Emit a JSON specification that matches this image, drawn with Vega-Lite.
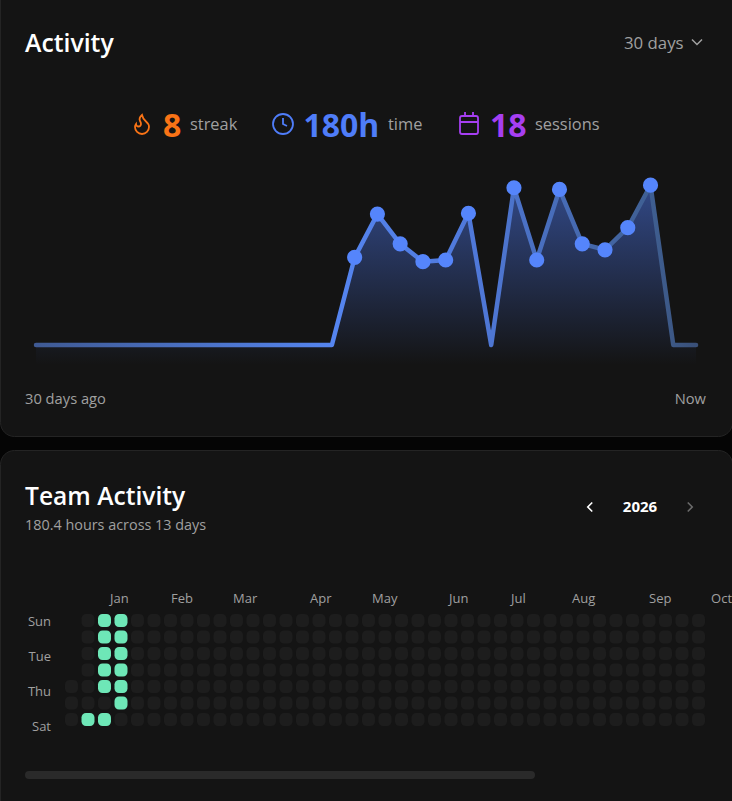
{
  "$schema": "https://vega.github.io/schema/vega-lite/v6.json",
  "background": "#050505",
  "padding": {"left": -1, "right": -1, "top": -21, "bottom": -20},
  "spacing": 12,
  "config": {
    "axis": {"disable": true},
    "legend": {"disable": true},
    "text": {"font": "Open Sans", "align": "left", "baseline": "middle", "color": "#a0a0a0"}
  },
  "datasets": {
    "activity": [
      {"day": 0, "hours": 0}, {"day": 1, "hours": 0}, {"day": 2, "hours": 0}, {"day": 3, "hours": 0},
      {"day": 4, "hours": 0}, {"day": 5, "hours": 0}, {"day": 6, "hours": 0}, {"day": 7, "hours": 0},
      {"day": 8, "hours": 0}, {"day": 9, "hours": 0}, {"day": 10, "hours": 0}, {"day": 11, "hours": 0},
      {"day": 12, "hours": 0}, {"day": 13, "hours": 0},
      {"day": 14, "hours": 10.3}, {"day": 15, "hours": 15.4}, {"day": 16, "hours": 11.9}, {"day": 17, "hours": 9.8},
      {"day": 18, "hours": 10}, {"day": 19, "hours": 15.5}, {"day": 20, "hours": 0}, {"day": 21, "hours": 18.5},
      {"day": 22, "hours": 10}, {"day": 23, "hours": 18.3}, {"day": 24, "hours": 11.9}, {"day": 25, "hours": 11.2},
      {"day": 26, "hours": 13.8}, {"day": 27, "hours": 18.8}, {"day": 28, "hours": 0}, {"day": 29, "hours": 0}
    ],
    "months": [
      {"month": "Jan", "week": 2.33}, {"month": "Feb", "week": 6.03}, {"month": "Mar", "week": 9.79},
      {"month": "Apr", "week": 14.46}, {"month": "May", "week": 18.21}, {"month": "Jun", "week": 22.88},
      {"month": "Jul", "week": 26.64}, {"month": "Aug", "week": 30.33}, {"month": "Sep", "week": 35},
      {"month": "Oct", "week": 38.76}
    ],
    "weekdays": [
      {"weekday": "Sun", "row": 0.09}, {"weekday": "Tue", "row": 2.21},
      {"weekday": "Thu", "row": 4.33}, {"weekday": "Sat", "row": 6.45}
    ],
    "cells": [
      {"week":0,"day":4,"active":0},{"week":0,"day":5,"active":0},{"week":0,"day":6,"active":0},
      {"week":1,"day":0,"active":0},{"week":1,"day":1,"active":0},{"week":1,"day":2,"active":0},{"week":1,"day":3,"active":0},{"week":1,"day":4,"active":0},{"week":1,"day":5,"active":0},{"week":1,"day":6,"active":1},
      {"week":2,"day":0,"active":1},{"week":2,"day":1,"active":1},{"week":2,"day":2,"active":1},{"week":2,"day":3,"active":1},{"week":2,"day":4,"active":1},{"week":2,"day":5,"active":0},{"week":2,"day":6,"active":1},
      {"week":3,"day":0,"active":1},{"week":3,"day":1,"active":1},{"week":3,"day":2,"active":1},{"week":3,"day":3,"active":1},{"week":3,"day":4,"active":1},{"week":3,"day":5,"active":1},{"week":3,"day":6,"active":0},
      {"week":4,"day":0,"active":0},{"week":4,"day":1,"active":0},{"week":4,"day":2,"active":0},{"week":4,"day":3,"active":0},{"week":4,"day":4,"active":0},{"week":4,"day":5,"active":0},{"week":4,"day":6,"active":0},
      {"week":5,"day":0,"active":0},{"week":5,"day":1,"active":0},{"week":5,"day":2,"active":0},{"week":5,"day":3,"active":0},{"week":5,"day":4,"active":0},{"week":5,"day":5,"active":0},{"week":5,"day":6,"active":0},
      {"week":6,"day":0,"active":0},{"week":6,"day":1,"active":0},{"week":6,"day":2,"active":0},{"week":6,"day":3,"active":0},{"week":6,"day":4,"active":0},{"week":6,"day":5,"active":0},{"week":6,"day":6,"active":0},
      {"week":7,"day":0,"active":0},{"week":7,"day":1,"active":0},{"week":7,"day":2,"active":0},{"week":7,"day":3,"active":0},{"week":7,"day":4,"active":0},{"week":7,"day":5,"active":0},{"week":7,"day":6,"active":0},
      {"week":8,"day":0,"active":0},{"week":8,"day":1,"active":0},{"week":8,"day":2,"active":0},{"week":8,"day":3,"active":0},{"week":8,"day":4,"active":0},{"week":8,"day":5,"active":0},{"week":8,"day":6,"active":0},
      {"week":9,"day":0,"active":0},{"week":9,"day":1,"active":0},{"week":9,"day":2,"active":0},{"week":9,"day":3,"active":0},{"week":9,"day":4,"active":0},{"week":9,"day":5,"active":0},{"week":9,"day":6,"active":0},
      {"week":10,"day":0,"active":0},{"week":10,"day":1,"active":0},{"week":10,"day":2,"active":0},{"week":10,"day":3,"active":0},{"week":10,"day":4,"active":0},{"week":10,"day":5,"active":0},{"week":10,"day":6,"active":0},
      {"week":11,"day":0,"active":0},{"week":11,"day":1,"active":0},{"week":11,"day":2,"active":0},{"week":11,"day":3,"active":0},{"week":11,"day":4,"active":0},{"week":11,"day":5,"active":0},{"week":11,"day":6,"active":0},
      {"week":12,"day":0,"active":0},{"week":12,"day":1,"active":0},{"week":12,"day":2,"active":0},{"week":12,"day":3,"active":0},{"week":12,"day":4,"active":0},{"week":12,"day":5,"active":0},{"week":12,"day":6,"active":0},
      {"week":13,"day":0,"active":0},{"week":13,"day":1,"active":0},{"week":13,"day":2,"active":0},{"week":13,"day":3,"active":0},{"week":13,"day":4,"active":0},{"week":13,"day":5,"active":0},{"week":13,"day":6,"active":0},
      {"week":14,"day":0,"active":0},{"week":14,"day":1,"active":0},{"week":14,"day":2,"active":0},{"week":14,"day":3,"active":0},{"week":14,"day":4,"active":0},{"week":14,"day":5,"active":0},{"week":14,"day":6,"active":0},
      {"week":15,"day":0,"active":0},{"week":15,"day":1,"active":0},{"week":15,"day":2,"active":0},{"week":15,"day":3,"active":0},{"week":15,"day":4,"active":0},{"week":15,"day":5,"active":0},{"week":15,"day":6,"active":0},
      {"week":16,"day":0,"active":0},{"week":16,"day":1,"active":0},{"week":16,"day":2,"active":0},{"week":16,"day":3,"active":0},{"week":16,"day":4,"active":0},{"week":16,"day":5,"active":0},{"week":16,"day":6,"active":0},
      {"week":17,"day":0,"active":0},{"week":17,"day":1,"active":0},{"week":17,"day":2,"active":0},{"week":17,"day":3,"active":0},{"week":17,"day":4,"active":0},{"week":17,"day":5,"active":0},{"week":17,"day":6,"active":0},
      {"week":18,"day":0,"active":0},{"week":18,"day":1,"active":0},{"week":18,"day":2,"active":0},{"week":18,"day":3,"active":0},{"week":18,"day":4,"active":0},{"week":18,"day":5,"active":0},{"week":18,"day":6,"active":0},
      {"week":19,"day":0,"active":0},{"week":19,"day":1,"active":0},{"week":19,"day":2,"active":0},{"week":19,"day":3,"active":0},{"week":19,"day":4,"active":0},{"week":19,"day":5,"active":0},{"week":19,"day":6,"active":0},
      {"week":20,"day":0,"active":0},{"week":20,"day":1,"active":0},{"week":20,"day":2,"active":0},{"week":20,"day":3,"active":0},{"week":20,"day":4,"active":0},{"week":20,"day":5,"active":0},{"week":20,"day":6,"active":0},
      {"week":21,"day":0,"active":0},{"week":21,"day":1,"active":0},{"week":21,"day":2,"active":0},{"week":21,"day":3,"active":0},{"week":21,"day":4,"active":0},{"week":21,"day":5,"active":0},{"week":21,"day":6,"active":0},
      {"week":22,"day":0,"active":0},{"week":22,"day":1,"active":0},{"week":22,"day":2,"active":0},{"week":22,"day":3,"active":0},{"week":22,"day":4,"active":0},{"week":22,"day":5,"active":0},{"week":22,"day":6,"active":0},
      {"week":23,"day":0,"active":0},{"week":23,"day":1,"active":0},{"week":23,"day":2,"active":0},{"week":23,"day":3,"active":0},{"week":23,"day":4,"active":0},{"week":23,"day":5,"active":0},{"week":23,"day":6,"active":0},
      {"week":24,"day":0,"active":0},{"week":24,"day":1,"active":0},{"week":24,"day":2,"active":0},{"week":24,"day":3,"active":0},{"week":24,"day":4,"active":0},{"week":24,"day":5,"active":0},{"week":24,"day":6,"active":0},
      {"week":25,"day":0,"active":0},{"week":25,"day":1,"active":0},{"week":25,"day":2,"active":0},{"week":25,"day":3,"active":0},{"week":25,"day":4,"active":0},{"week":25,"day":5,"active":0},{"week":25,"day":6,"active":0},
      {"week":26,"day":0,"active":0},{"week":26,"day":1,"active":0},{"week":26,"day":2,"active":0},{"week":26,"day":3,"active":0},{"week":26,"day":4,"active":0},{"week":26,"day":5,"active":0},{"week":26,"day":6,"active":0},
      {"week":27,"day":0,"active":0},{"week":27,"day":1,"active":0},{"week":27,"day":2,"active":0},{"week":27,"day":3,"active":0},{"week":27,"day":4,"active":0},{"week":27,"day":5,"active":0},{"week":27,"day":6,"active":0},
      {"week":28,"day":0,"active":0},{"week":28,"day":1,"active":0},{"week":28,"day":2,"active":0},{"week":28,"day":3,"active":0},{"week":28,"day":4,"active":0},{"week":28,"day":5,"active":0},{"week":28,"day":6,"active":0},
      {"week":29,"day":0,"active":0},{"week":29,"day":1,"active":0},{"week":29,"day":2,"active":0},{"week":29,"day":3,"active":0},{"week":29,"day":4,"active":0},{"week":29,"day":5,"active":0},{"week":29,"day":6,"active":0},
      {"week":30,"day":0,"active":0},{"week":30,"day":1,"active":0},{"week":30,"day":2,"active":0},{"week":30,"day":3,"active":0},{"week":30,"day":4,"active":0},{"week":30,"day":5,"active":0},{"week":30,"day":6,"active":0},
      {"week":31,"day":0,"active":0},{"week":31,"day":1,"active":0},{"week":31,"day":2,"active":0},{"week":31,"day":3,"active":0},{"week":31,"day":4,"active":0},{"week":31,"day":5,"active":0},{"week":31,"day":6,"active":0},
      {"week":32,"day":0,"active":0},{"week":32,"day":1,"active":0},{"week":32,"day":2,"active":0},{"week":32,"day":3,"active":0},{"week":32,"day":4,"active":0},{"week":32,"day":5,"active":0},{"week":32,"day":6,"active":0},
      {"week":33,"day":0,"active":0},{"week":33,"day":1,"active":0},{"week":33,"day":2,"active":0},{"week":33,"day":3,"active":0},{"week":33,"day":4,"active":0},{"week":33,"day":5,"active":0},{"week":33,"day":6,"active":0},
      {"week":34,"day":0,"active":0},{"week":34,"day":1,"active":0},{"week":34,"day":2,"active":0},{"week":34,"day":3,"active":0},{"week":34,"day":4,"active":0},{"week":34,"day":5,"active":0},{"week":34,"day":6,"active":0},
      {"week":35,"day":0,"active":0},{"week":35,"day":1,"active":0},{"week":35,"day":2,"active":0},{"week":35,"day":3,"active":0},{"week":35,"day":4,"active":0},{"week":35,"day":5,"active":0},{"week":35,"day":6,"active":0},
      {"week":36,"day":0,"active":0},{"week":36,"day":1,"active":0},{"week":36,"day":2,"active":0},{"week":36,"day":3,"active":0},{"week":36,"day":4,"active":0},{"week":36,"day":5,"active":0},{"week":36,"day":6,"active":0},
      {"week":37,"day":0,"active":0},{"week":37,"day":1,"active":0},{"week":37,"day":2,"active":0},{"week":37,"day":3,"active":0},{"week":37,"day":4,"active":0},{"week":37,"day":5,"active":0},{"week":37,"day":6,"active":0},
      {"week":38,"day":0,"active":0},{"week":38,"day":1,"active":0},{"week":38,"day":2,"active":0},{"week":38,"day":3,"active":0},{"week":38,"day":4,"active":0},{"week":38,"day":5,"active":0},{"week":38,"day":6,"active":0}
    ]
  },
  "vconcat": [
    {
      "width": 732,
      "height": 456,
      "view": {"fill": "#141414", "stroke": "#242424", "cornerRadius": 14},
      "layer": [
        {
          "data": {"name": "activity"},
          "encoding": {
            "x": {"field": "day", "type": "quantitative", "scale": {"domain": [-1.582, 30.58], "nice": false, "zero": false}},
            "y": {"field": "hours", "type": "quantitative", "scale": {"domain": [-10.706, 42.941], "nice": false, "zero": false}}
          },
          "layer": [
            {
              "mark": {
                "type": "area",
                "fill": {
                  "gradient": "linear", "x1": 0, "y1": 0, "x2": 0, "y2": 1,
                  "stops": [
                    {"offset": 0, "color": "rgba(79,125,249,0.5)"},
                    {"offset": 1, "color": "rgba(79,125,249,0)"}
                  ]
                }
              },
              "encoding": {"y2": {"datum": -2.35}}
            },
            {
              "mark": {
                "type": "line",
                "strokeWidth": 4.5,
                "strokeCap": "round",
                "strokeJoin": "round",
                "stroke": {
                  "gradient": "linear", "x1": 0, "y1": 0, "x2": 1, "y2": 0,
                  "stops": [
                    {"offset": 0, "color": "#3f5a94"},
                    {"offset": 0.45, "color": "#5585f0"},
                    {"offset": 0.67, "color": "#4f78d8"},
                    {"offset": 0.93, "color": "#3f5f92"},
                    {"offset": 1, "color": "#3a5078"}
                  ]
                }
              }
            },
            {
              "transform": [{"filter": "datum.hours > 0"}],
              "mark": {"type": "circle", "size": 230, "color": "#5585fb", "opacity": 1}
            }
          ]
        },
        {
          "data": {"values": [{"label": "Activity"}]},
          "mark": {"type": "text", "fontSize": 24.8, "fontWeight": 600, "color": "#ffffff"},
          "encoding": {"x": {"datum": -0.483}, "y": {"datum": 35.3}, "text": {"field": "label"}}
        },
        {
          "data": {"values": [{"label": "30 days"}]},
          "mark": {"type": "text", "fontSize": 16.8},
          "encoding": {"x": {"datum": 25.835}, "y": {"datum": 35.45}, "text": {"field": "label"}}
        },
        {
          "data": {"values": [{"label": "range"}]},
          "mark": {"type": "point", "shape": "M-0.5,-0.25L0,0.25L0.5,-0.25", "size": 400, "filled": false, "stroke": "#a0a0a0", "strokeWidth": 1.5, "opacity": 1},
          "encoding": {"x": {"datum": 29.042}, "y": {"datum": 35.65}}
        },
        {
          "data": {"values": [{"label": "streak icon"}]},
          "mark": {"type": "point", "shape": "M-0.292,0.208A0.208,0.208 0 0 0 -0.083,0c0,-0.115 -0.042,-0.167 -0.083,-0.25 -0.089,-0.179 -0.019,-0.338 0.167,-0.5 0.042,0.208 0.167,0.408 0.333,0.542 0.167,0.133 0.25,0.292 0.25,0.458a0.583,0.583 0 1 1 -1.167,0c0,-0.096 0.036,-0.191 0.083,-0.25a0.208,0.208 0 0 0 0.208,0.208z", "size": 576, "filled": false, "stroke": "#f97316", "strokeWidth": 1.8, "opacity": 1},
          "encoding": {"x": {"datum": 4.657}, "y": {"datum": 26}}
        },
        {
          "data": {"values": [{"label": "8"}]},
          "mark": {"type": "text", "fontSize": 32, "fontWeight": 700, "color": "#f97316"},
          "encoding": {"x": {"datum": 5.58}, "y": {"datum": 25.7}, "text": {"field": "label"}}
        },
        {
          "data": {"values": [{"label": "streak"}]},
          "mark": {"type": "text", "fontSize": 16.4},
          "encoding": {"x": {"datum": 6.766}, "y": {"datum": 25.9}, "text": {"field": "label"}}
        },
        {
          "data": {"values": [{"label": "time icon"}]},
          "mark": {"type": "point", "shape": "M0.833,0A0.833,0.833 0 1 1 -0.833,0A0.833,0.833 0 1 1 0.833,0M0,-0.5V0L0.333,0.167", "size": 576, "filled": false, "stroke": "#4f7df9", "strokeWidth": 1.8, "opacity": 1},
          "encoding": {"x": {"datum": 10.852}, "y": {"datum": 26}}
        },
        {
          "data": {"values": [{"label": "180h"}]},
          "mark": {"type": "text", "fontSize": 32, "fontWeight": 700, "color": "#4f7df9"},
          "encoding": {"x": {"datum": 11.75}, "y": {"datum": 25.7}, "text": {"field": "label"}}
        },
        {
          "data": {"values": [{"label": "time"}]},
          "mark": {"type": "text", "fontSize": 16.4},
          "encoding": {"x": {"datum": 15.466}, "y": {"datum": 25.9}, "text": {"field": "label"}}
        },
        {
          "data": {"values": [{"label": "sessions icon"}]},
          "mark": {"type": "point", "shape": "M-0.583,-0.667H0.583A0.167,0.167 0 0 1 0.75,-0.5V0.667A0.167,0.167 0 0 1 0.583,0.833H-0.583A0.167,0.167 0 0 1 -0.75,0.667V-0.5A0.167,0.167 0 0 1 -0.583,-0.667ZM0.333,-1V-0.667M-0.333,-1V-0.667M-0.75,-0.167H0.75", "size": 576, "filled": false, "stroke": "#a63ff2", "strokeWidth": 1.8, "opacity": 1},
          "encoding": {"x": {"datum": 19.025}, "y": {"datum": 26}}
        },
        {
          "data": {"values": [{"label": "18"}]},
          "mark": {"type": "text", "fontSize": 32, "fontWeight": 700, "color": "#a63ff2"},
          "encoding": {"x": {"datum": 19.946}, "y": {"datum": 25.7}, "text": {"field": "label"}}
        },
        {
          "data": {"values": [{"label": "sessions"}]},
          "mark": {"type": "text", "fontSize": 16.4},
          "encoding": {"x": {"datum": 21.924}, "y": {"datum": 25.9}, "text": {"field": "label"}}
        },
        {
          "data": {"values": [{"label": "30 days ago"}]},
          "mark": {"type": "text", "fontSize": 14.7},
          "encoding": {"x": {"datum": -0.483}, "y": {"datum": -6.47}, "text": {"field": "label"}}
        },
        {
          "data": {"values": [{"label": "Now"}]},
          "mark": {"type": "text", "fontSize": 14.7, "align": "right"},
          "encoding": {"x": {"datum": 29.438}, "y": {"datum": -6.47}, "text": {"field": "label"}}
        }
      ]
    },
    {
      "width": 732,
      "height": 371,
      "view": {"fill": "#141414", "stroke": "#242424", "cornerRadius": 14},
      "layer": [
        {
          "data": {"name": "cells"},
          "mark": {"type": "rect", "width": 13, "height": 13, "cornerRadius": 4.5},
          "encoding": {
            "x": {"field": "week", "type": "quantitative", "scale": {"domain": [-4.333, 40.03], "nice": false, "zero": false}},
            "y": {"field": "day", "type": "quantitative", "scale": {"domain": [12.152, -10.333], "nice": false, "zero": false}},
            "color": {
              "field": "active",
              "type": "nominal",
              "scale": {"domain": [0, 1], "range": ["#1d1d1d", "#6ee7b7"]}
            }
          }
        },
        {
          "data": {"name": "months"},
          "mark": {"type": "text", "fontSize": 13, "clip": true},
          "encoding": {"x": {"field": "week", "type": "quantitative"}, "y": {"datum": -1.3}, "text": {"field": "month"}}
        },
        {
          "data": {"name": "weekdays"},
          "mark": {"type": "text", "fontSize": 13, "align": "right"},
          "encoding": {"x": {"datum": -1.242}, "y": {"field": "row", "type": "quantitative"}, "text": {"field": "weekday"}}
        },
        {
          "data": {"values": [{"label": "Team Activity"}]},
          "mark": {"type": "text", "fontSize": 24.6, "fontWeight": 600, "color": "#ffffff"},
          "encoding": {"x": {"datum": -2.818}, "y": {"datum": -7.42}, "text": {"field": "label"}}
        },
        {
          "data": {"values": [{"label": "180.4 hours across 13 days"}]},
          "mark": {"type": "text", "fontSize": 14.4},
          "encoding": {"x": {"datum": -2.818}, "y": {"datum": -5.73}, "text": {"field": "label"}}
        },
        {
          "data": {"values": [{"label": "2026"}]},
          "mark": {"type": "text", "fontSize": 15, "fontWeight": 700, "align": "center", "color": "#ffffff"},
          "encoding": {"x": {"datum": 34.455}, "y": {"datum": -6.879}, "text": {"field": "label"}}
        },
        {
          "data": {"values": [{"label": "previous"}]},
          "mark": {"type": "point", "shape": "M0.25,-0.5L-0.25,0L0.25,0.5", "size": 324, "filled": false, "stroke": "#ffffff", "strokeWidth": 1.6, "opacity": 1},
          "encoding": {"x": {"datum": 31.424}, "y": {"datum": -6.879}}
        },
        {
          "data": {"values": [{"label": "next"}]},
          "mark": {"type": "point", "shape": "M-0.25,-0.5L0.25,0L-0.25,0.5", "size": 324, "filled": false, "stroke": "#6a6a6a", "strokeWidth": 1.6, "opacity": 1},
          "encoding": {"x": {"datum": 37.485}, "y": {"datum": -6.879}}
        },
        {
          "data": {"values": [{"label": "scrollbar"}]},
          "mark": {"type": "rule", "strokeWidth": 8, "strokeCap": "round", "color": "#2a2a2a"},
          "encoding": {"x": {"datum": -2.576}, "x2": {"datum": 27.848}, "y": {"datum": 9.364}}
        }
      ]
    }
  ]
}
